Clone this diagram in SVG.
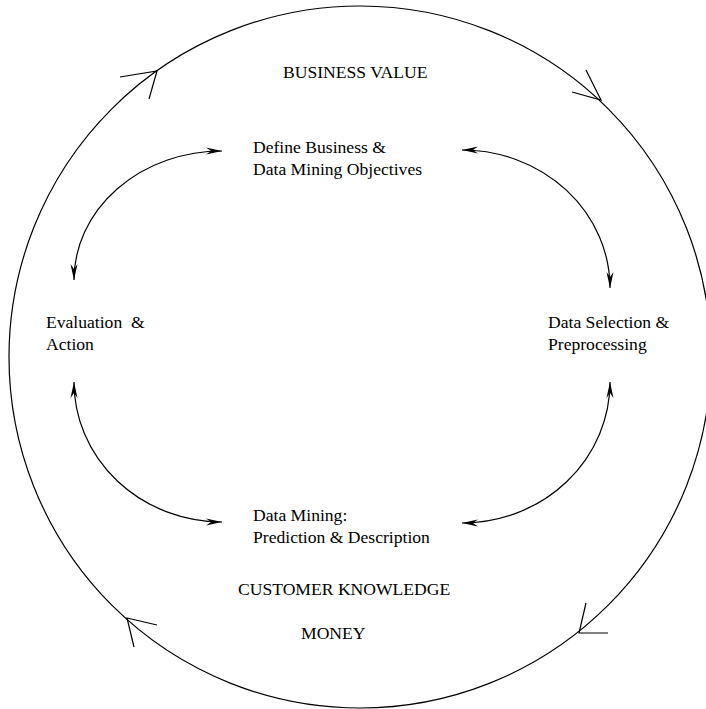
<svg xmlns="http://www.w3.org/2000/svg" width="706" height="709" viewBox="0 0 706 709">
<style>
.ln{fill:none;stroke:#000;stroke-width:1.2}
.t{font-family:"Liberation Serif","Times New Roman",serif;font-size:17.6px;fill:#000}
.arc{fill:none;stroke:#000;stroke-width:1.2;marker-start:url(#ah);marker-end:url(#ah)}
</style>
<defs>
<marker id="ah" markerUnits="userSpaceOnUse" markerWidth="18" markerHeight="10" refX="16" refY="4" orient="auto-start-reverse" viewBox="0 0 18 8">
<path d="M0,0.5 L16,4 L0,7.5 L5,4 z" fill="#000"/>
</marker>
</defs>
<rect width="706" height="709" fill="#fff"/>
<g id="cycle">
<circle class="ln" cx="360" cy="357" r="351"/>
<polyline class="ln" points="120,77 157,71 149,99"/>
<polyline class="ln" points="572,92 601,100 586,70"/>
<polyline class="ln" points="608,633 579,633 586,603"/>
<polyline class="ln" points="157,625 127,618 134,647"/>
</g>
<g id="connectors">
<path class="arc" d="M222,151 A148,129 0 0 0 74,280"/>
<path class="arc" d="M462,150 A148,138 0 0 1 610,288"/>
<path class="arc" d="M74,382 A148,140 0 0 0 222,522"/>
<path class="arc" d="M610,382 A148,141 0 0 1 462,523"/>
</g>
<g id="business-value"><text class="t" x="283" y="78">BUSINESS VALUE</text></g>
<g id="define"><text class="t" x="253" y="153">Define Business &amp;</text><text class="t" x="253" y="175">Data Mining Objectives</text></g>
<g id="evaluation"><text class="t" x="46" y="328" xml:space="preserve">Evaluation  &amp;</text><text class="t" x="46" y="350">Action</text></g>
<g id="selection"><text class="t" x="548" y="328">Data Selection &amp;</text><text class="t" x="548" y="350">Preprocessing</text></g>
<g id="mining"><text class="t" x="253" y="521">Data Mining:</text><text class="t" x="253" y="543">Prediction &amp; Description</text></g>
<g id="customer-knowledge"><text class="t" x="238" y="595">CUSTOMER KNOWLEDGE</text></g>
<g id="money"><text class="t" x="301" y="639">MONEY</text></g>
</svg>
